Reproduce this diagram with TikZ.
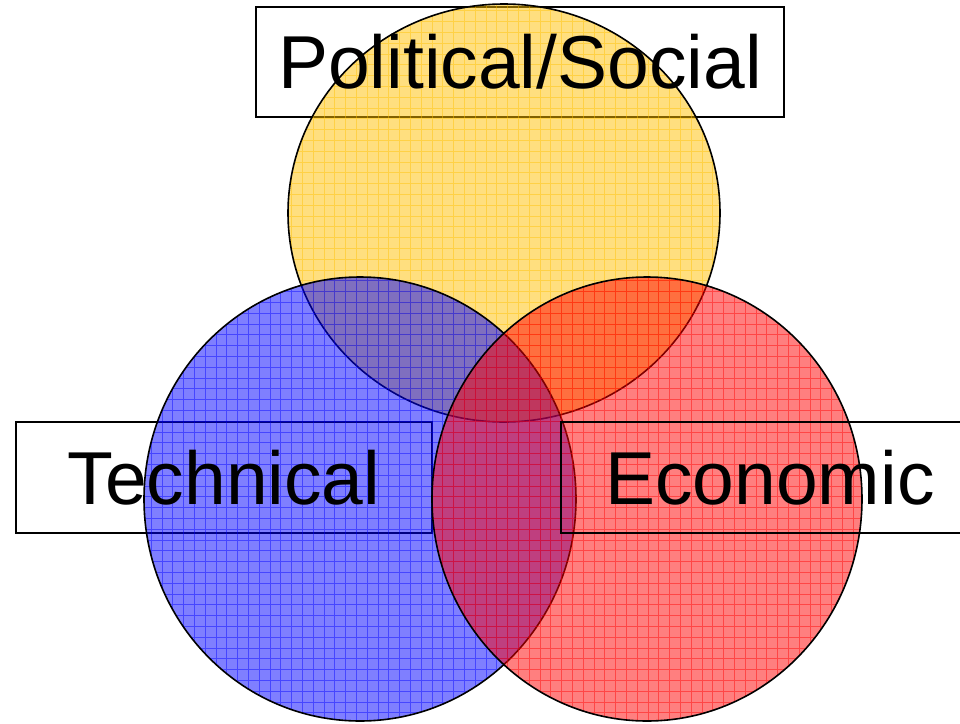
\documentclass[tikz,border=0pt]{standalone}
\usepackage{fontspec}
\setmainfont{Liberation Sans}

\definecolor{polyellow}{RGB}{255,192,0}
\definecolor{techblue}{RGB}{0,0,255}
\definecolor{econred}{RGB}{255,0,0}

% one hatched circle: centre, x radius, y radius, colour
\newcommand{\venncircle}[4]{%
  \begin{scope}
    \clip (#1) ellipse [x radius=#2, y radius=#3];
    \fill [#4, fill opacity=0.5] (0,0) rectangle (960,724);
    \draw [#4, opacity=0.45, line width=0.5pt, step=5.4pt] (0,0) grid (960,724);
  \end{scope}
  \draw [line width=0.8pt] (#1) ellipse [x radius=#2, y radius=#3];
}

\begin{document}
\begin{tikzpicture}[
    x=0.5pt, y=-0.5pt,
    box/.style={rectangle, draw, line width=1pt, fill=white, inner sep=0pt},
    boxtext/.style={font=\fontsize{37.5}{44}\selectfont, inner sep=0pt}
]
\useasboundingbox (0,0) rectangle (960,724);
\clip (0,0) rectangle (960,724);

% Boxes behind the circles
\node (polbox) [box, minimum width=264pt, minimum height=55pt] at (520,62) {};
\node (techbox) [box, minimum width=208pt, minimum height=55.5pt] at (224,477.5) {};

% Circle centres
\coordinate (polc) at (504,213);
\coordinate (techc) at (360,499);
\coordinate (econc) at (647,499);

% Circles
\venncircle{polc}{108pt}{104.5pt}{polyellow}
\venncircle{techc}{108pt}{111pt}{techblue}
\venncircle{econc}{107.5pt}{111pt}{econred}

% Box in front of the red circle
\node (econbox) [box, fill=none, minimum width=209pt, minimum height=55.5pt] at (770,477.5) {};

% Labels
\node [boxtext] at (polbox) {Political/Social};
\node [boxtext] at (techbox) {Technical};
\node [boxtext] at (econbox) {Economic};
\end{tikzpicture}
\end{document}
